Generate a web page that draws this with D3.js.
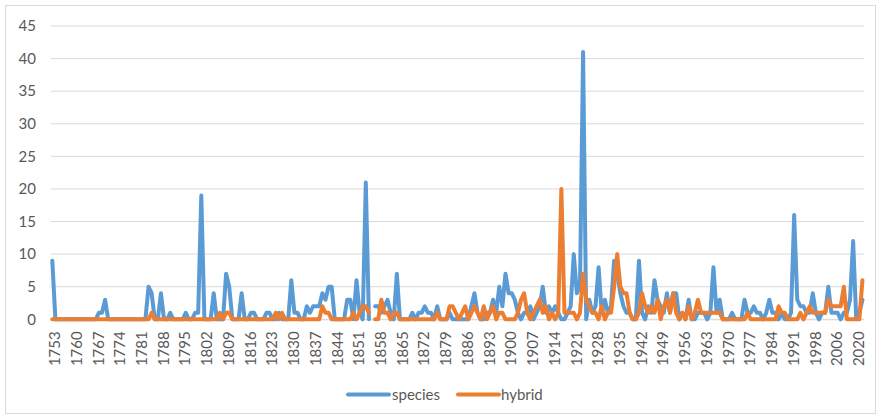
<!DOCTYPE html>
<html><head><meta charset="utf-8">
<script src="https://cdn.jsdelivr.net/npm/d3@7"></script>
<style>body{margin:0;background:#fff}svg{display:block}</style>
</head><body>
<script>
// ---- data ----
const years = [];
for (let y = 1753; y <= 1998; y++) years.push(y);
[2000,2001,2002,2003,2004,2005,2006].forEach(y => years.push(y));
[2014,2015,2016,2017,2018,2019,2020].forEach(y => years.push(y));
[2021,2022].forEach(y => years.push(y));

const species = [
9,0,0,0,0,0,0,0,0,0,
0,0,0,0,0,1,1,3,0,0,
0,0,0,0,0,0,0,0,0,0,
0,5,4,0,0,4,0,0,1,0,
0,0,0,1,0,0,1,1,19,0,
0,0,4,0,0,0,7,5,0,0,
0,4,0,0,1,1,0,0,0,1,
1,0,0,1,0,0,0,6,1,1,
0,0,2,1,2,2,2,4,3,5,
5,0,0,0,0,3,3,0,6,1,
0,21,0,null,2,2,1,2,3,1,
0,7,0,0,0,0,1,0,1,1,
2,1,1,0,2,0,0,0,1,0,
0,0,0,0,0,2,4,1,0,0,
1,1,3,1,5,2,7,4,4,3,
1,0,1,1,2,0,1,2,5,1,
2,1,2,1,0,0,1,2,10,4,
5,41,0,3,1,2,8,1,3,1,
2,9,7,4,2,1,1,0,0,9,
1,0,2,1,6,3,2,1,4,1,
4,4,0,1,0,3,0,0,1,1,
1,0,1,8,1,3,0,0,0,1,
0,0,0,3,1,1,2,1,1,0,
1,3,1,1,0,1,0,0,1,16,
3,2,2,1,1,4,1,0,1,1,
5,1,1,1,0,1,1,3,12,0,
1,3];

const hybrid = [
0,0,0,0,0,0,0,0,0,0,
0,0,0,0,0,0,0,0,0,0,
0,0,0,0,0,0,0,0,0,0,
0,0,1,0,0,0,0,0,0,0,
0,0,0,0,0,0,0,0,0,0,
0,0,0,0,1,0,1,1,0,0,
0,0,0,0,0,0,0,0,0,0,
0,0,1,0,1,0,0,0,0,0,
0,0,0,0,0,0,0,2,1,1,
0,0,0,0,0,0,0,1,0,1,
2,2,1,null,0,0,3,1,1,0,
1,1,0,0,0,0,0,0,0,0,
0,0,0,0,1,0,0,0,2,2,
1,0,1,2,0,1,2,1,0,2,
0,1,2,0,1,1,0,0,0,0,
1,3,4,1,0,1,2,3,1,2,
0,1,0,1,20,1,1,1,1,0,
1,7,3,2,1,1,0,2,0,1,
1,5,10,5,4,4,1,0,0,1,
4,2,1,2,1,3,0,2,3,1,
4,1,0,1,0,2,0,1,3,1,
1,1,1,1,1,1,0,0,0,0,
0,0,0,0,1,0,0,0,0,0,
0,0,0,0,2,1,1,0,0,0,
0,1,0,1,2,1,1,1,1,1,
3,2,2,2,2,5,0,0,0,0,
0,6];

const yTicks = [0,5,10,15,20,25,30,35,40,45];
const seriesNames = ["species","hybrid"];
const colors = ["#5B9BD5","#ED7D31"];

// ---- chart ----
const W = 881, H = 420;
const svg = d3.select("body").append("svg").attr("width", W).attr("height", H);
const FONT = "Lato, 'Open Sans', sans-serif";
const TXT = "#595959";

svg.append("rect").attr("x",5.5).attr("y",5.5).attr("width",870).attr("height",408)
  .attr("fill","#fff").attr("stroke","#D9D9D9").attr("stroke-width",1);

const x = d3.scalePoint().domain(years).range([50.75, 864]).padding(0.5);
const y = d3.scaleLinear().domain([0,45]).range([319.3, 26]);

// gridlines
svg.append("g").selectAll("line").data(yTicks).join("line")
  .attr("x1",50.75).attr("x2",864)
  .attr("y1",d=>y(d)).attr("y2",d=>y(d))
  .attr("stroke","#D9D9D9").attr("stroke-width",1);

// y labels
const yAxis = d3.axisLeft(y).tickValues(yTicks).tickSize(0).tickPadding(0);
const gy = svg.append("g").attr("transform","translate(36,0)").call(yAxis);
gy.select(".domain").remove();
gy.selectAll("text").attr("font-family",FONT).attr("font-size",15).attr("fill",TXT);

// x labels (every 7th category)
const labeled = years.filter((d,i)=> i % 7 === 0);
const xAxis = d3.axisBottom(x).tickValues(labeled).tickSize(0).tickPadding(0);
const gx = svg.append("g").attr("transform","translate(0,319.3)").call(xAxis);
gx.select(".domain").attr("stroke","#D9D9D9");
gx.selectAll("text")
  .attr("font-family",FONT).attr("font-size",15).attr("fill",TXT)
  .attr("text-anchor","end")
  .attr("transform","translate(2,12) rotate(-90)")
  .attr("x",0).attr("y",0).attr("dy","0.35em");

// lines
const data = [species, hybrid];
const line = d3.line()
  .defined(d => d.v != null)
  .x(d => x(d.yr)).y(d => y(d.v));
data.forEach((arr,k)=>{
  const pts = arr.map((v,i)=>({yr:years[i], v}));
  svg.append("path").datum(pts).attr("d",line)
    .attr("fill","none").attr("stroke",colors[k]).attr("stroke-width",4)
    .attr("stroke-linejoin","round").attr("stroke-linecap","round");
});

// legend
const leg = [{x1:348,x2:389,tx:392},{x1:458,x2:499,tx:501}];
leg.forEach((L,k)=>{
  svg.append("line").attr("x1",L.x1).attr("x2",L.x2).attr("y1",394.5).attr("y2",394.5)
    .attr("stroke",colors[k]).attr("stroke-width",4).attr("stroke-linecap","round");
  svg.append("text").attr("x",L.tx).attr("y",399.5).text(seriesNames[k])
    .attr("font-family",FONT).attr("font-size",15).attr("fill",TXT);
});
</script>
</body></html>
